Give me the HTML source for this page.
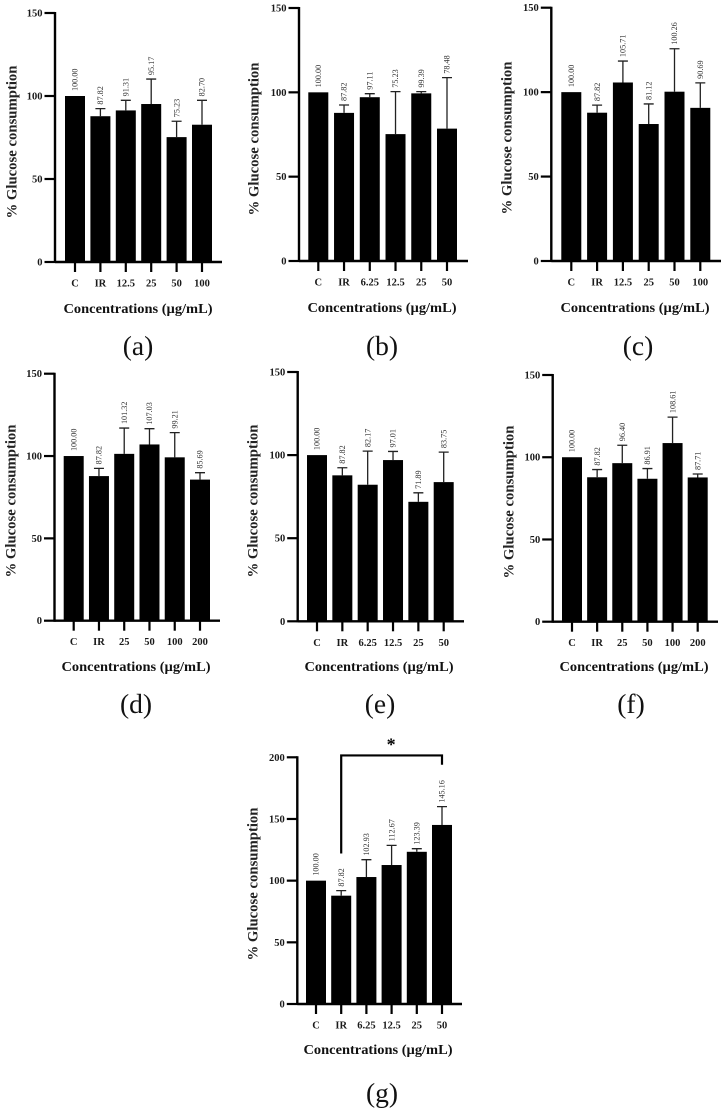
<!DOCTYPE html>
<html lang="en">
<head>
<meta charset="utf-8">
<title>Glucose consumption bar charts</title>
<style>
html,body{margin:0;padding:0;background:#fff;width:728px;height:1110px;overflow:hidden}
svg{display:block;font-family:"Liberation Serif",serif;filter:blur(0.3px)}
.tick{font-weight:bold;font-size:10.5px;fill:#1a1a1a}
.title{font-weight:bold;font-size:13.5px;fill:#111}
.ytitle{font-weight:bold;font-size:14.5px;fill:#222}
.val{font-size:8.2px;fill:#333}
.letter{font-size:27.5px;fill:#111}
</style>
</head>
<body>
<svg id="fig" width="728" height="1110" viewBox="0 0 728 1110" xmlns="http://www.w3.org/2000/svg"></svg>
<script>
// ---- data ----
const yTicks150 = [0, 50, 100, 150];
const yTicks200 = [0, 50, 100, 150, 200];
const yAxisTitle = "% Glucose consumption";
const xAxisTitle = "Concentrations (µg/mL)";

const catsA = ["C", "IR", "12.5", "25", "50", "100"];
const valsA = [100.00, 87.82, 91.31, 95.17, 75.23, 82.70];
const capsA = [100.00, 92.4, 97.4, 110.2, 84.8, 97.4];

const catsB = ["C", "IR", "6.25", "12.5", "25", "50"];
const valsB = [100.00, 87.82, 97.11, 75.23, 99.39, 78.48];
const capsB = [100.00, 92.5, 99.2, 100.4, 100.4, 108.7];

const catsC = ["C", "IR", "12.5", "25", "50", "100"];
const valsC = [100.00, 87.82, 105.71, 81.12, 100.26, 90.69];
const capsC = [100.00, 92.3, 118.4, 93.0, 125.7, 105.5];

const catsD = ["C", "IR", "25", "50", "100", "200"];
const valsD = [100.00, 87.82, 101.32, 107.03, 99.21, 85.69];
const capsD = [100.00, 92.5, 117.0, 116.6, 114.2, 89.9];

const catsE = ["C", "IR", "6.25", "12.5", "25", "50"];
const valsE = [100.00, 87.82, 82.17, 97.01, 71.89, 83.75];
const capsE = [100.00, 92.4, 102.4, 102.2, 77.3, 101.8];

const catsF = ["C", "IR", "25", "50", "100", "200"];
const valsF = [100.00, 87.82, 96.40, 86.91, 108.61, 87.71];
const capsF = [100.00, 92.5, 107.3, 93.1, 124.4, 89.8];

const catsG = ["C", "IR", "6.25", "12.5", "25", "50"];
const valsG = [100.00, 87.82, 102.93, 112.67, 123.39, 145.16];
const capsG = [100.00, 91.9, 117.0, 128.6, 125.9, 160.0];

// ---- layout (frames only; marks are computed through the axis functions) ----
const panels = [
  {id:"a",cats:catsA,vals:valsA,caps:capsA,ticks:yTicks150,ax:55,  y0:262,  top:13,   x1:75,   xn:202,  right:222,yt:[12,142],xt:[138,313],let:[138,355]},
  {id:"b",cats:catsB,vals:valsB,caps:capsB,ticks:yTicks150,ax:299, y0:261,  top:8,    x1:318.3,xn:447,  right:468,yt:[254,139],xt:[382,312],let:[382,355]},
  {id:"c",cats:catsC,vals:valsC,caps:capsC,ticks:yTicks150,ax:551.3,y0:261, top:7.7,  x1:571.3,xn:700.3,right:721,yt:[507,138],xt:[635,312],let:[638,355]},
  {id:"d",cats:catsD,vals:valsD,caps:capsD,ticks:yTicks150,ax:54.5,y0:620.7,top:373.7,x1:73.7, xn:200,  right:220,yt:[11,501], xt:[136,671],let:[136,713]},
  {id:"e",cats:catsE,vals:valsE,caps:capsE,ticks:yTicks150,ax:297.7,y0:621.3,top:372, x1:317,  xn:443.7,right:464,yt:[253,501],xt:[379,671],let:[380,713]},
  {id:"f",cats:catsF,vals:valsF,caps:capsF,ticks:yTicks150,ax:552.7,y0:621.7,top:375, x1:572,  xn:697.7,right:718,yt:[509,502],xt:[634,671],let:[631,713]},
  {id:"g",cats:catsG,vals:valsG,caps:capsG,ticks:yTicks200,ax:297.3,y0:1004,top:757.3,x1:316,  xn:442,  right:462,yt:[253,884],xt:[378,1054],let:[382,1102]}
];
const NS = "http://www.w3.org/2000/svg";
const root = document.getElementById("fig");

function make(parent, tag, attrs, text) {
  const n = document.createElementNS(NS, tag);
  for (const k in attrs) n.setAttribute(k, attrs[k]);
  if (text !== undefined) n.textContent = text;
  parent.appendChild(n);
  return n;
}

panels.forEach(function (p) {
  const maxV = p.ticks[p.ticks.length - 1];
  const yScale = function (v) { return p.y0 - v / maxV * (p.y0 - p.top); };
  const xScale = function (i) { return p.x1 + i * (p.xn - p.x1) / (p.cats.length - 1); };
  let el;

  const g = make(root, "g", {});
  
  

  p.vals.forEach(function (v, i) {
    const x = xScale(i);
    el = make(g, "rect", {x: x - 10, y: yScale(v), width: 20, height: p.y0 - yScale(v), fill: "#000"});
    
    

    const cap = p.caps[i];
    if (cap > v) {
      el = make(g, "path", {d: "M" + x + " " + yScale(v) + "V" + yScale(cap) + "M" + (x - 5) + " " + yScale(cap) + "H" + (x + 5), stroke: "#222", "stroke-width": 1.3, fill: "none"});
      
      
    }

    const ly = yScale(Math.max(cap, v)) - (cap > v ? 4 : 5);
    el = make(g, "text", {class: "val", x: x + 2.7, y: ly, transform: "rotate(-90 " + (x + 2.7) + " " + ly + ")"}, v.toFixed(2));
    
    

    el = make(g, "line", {x1: x, x2: x, y1: p.y0, y2: p.y0 + 10, stroke: "#000", "stroke-width": 2.2});
    
    

    el = make(g, "text", {class: "tick", x: x, y: p.y0 + 24.5, "text-anchor": "middle"}, p.cats[i]);
    
    
  });

  p.ticks.forEach(function (t) {
    const y = yScale(t);
    el = make(g, "line", {x1: p.ax - 10.5, x2: p.ax, y1: y, y2: y, stroke: "#000", "stroke-width": 2.2});
    
    

    el = make(g, "text", {class: "tick", x: p.ax - 12.5, y: y + 3.5, "text-anchor": "end"}, String(t));
    
    
  });

  el = make(g, "line", {x1: p.ax, x2: p.ax, y1: yScale(maxV) - 1, y2: p.y0 + 1, stroke: "#000", "stroke-width": 2.4});
  
  

  el = make(g, "line", {x1: p.ax, x2: p.right, y1: p.y0, y2: p.y0, stroke: "#000", "stroke-width": 2.4});
  
  

  el = make(g, "text", {class: "ytitle", x: p.yt[0] + 4.5, y: p.yt[1], "text-anchor": "middle", textLength: 153, lengthAdjust: "spacingAndGlyphs", transform: "rotate(-90 " + (p.yt[0] + 4.5) + " " + p.yt[1] + ")"}, yAxisTitle);
  
  

  el = make(g, "text", {class: "title", x: p.xt[0], y: p.xt[1], "text-anchor": "middle", textLength: 149, lengthAdjust: "spacingAndGlyphs"}, xAxisTitle);
  
  

  el = make(g, "text", {class: "letter", x: p.let[0], y: p.let[1], "text-anchor": "middle"}, "(" + p.id + ")");
  
  

  if (p.id === "g") {
    const bl = xScale(1), br = xScale(5);
    const bt = yScale(201.5);
    el = make(g, "path", {d: "M" + bl + " " + yScale(122) + "V" + bt + "H" + br + "V" + yScale(194), stroke: "#000", "stroke-width": 2.2, fill: "none"});
    
    

    el = make(g, "text", {x: (bl + br) / 2 - 0.5, y: bt - 5, "text-anchor": "middle", "font-size": 18, "font-weight": "bold", fill: "#000"}, "*");
    
    
  }
});
</script>
</body>
</html>
